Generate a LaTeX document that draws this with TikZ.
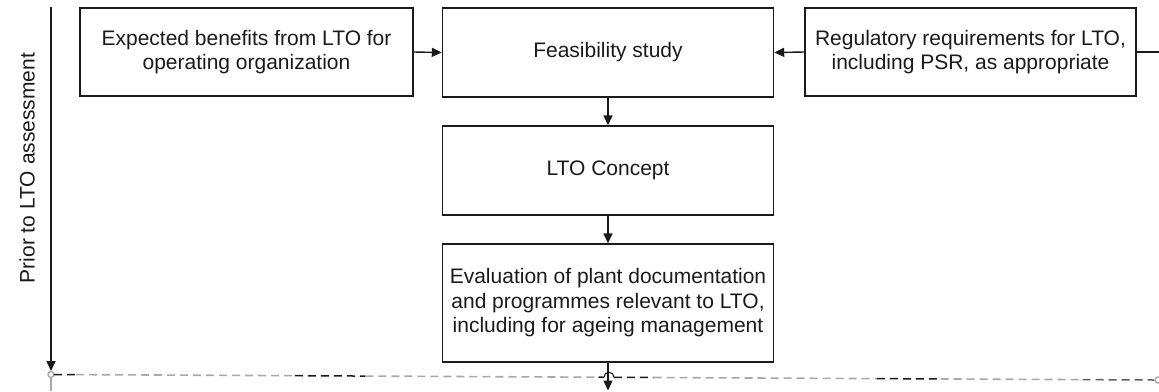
\documentclass[tikz,border=0pt]{standalone}
\usepackage{fontspec}
\setmainfont{Liberation Sans}
\usetikzlibrary{arrows.meta,calc}
\definecolor{ink}{HTML}{1A1A1A}
\definecolor{lightdash}{HTML}{A8A8A8}
\begin{document}
\begin{tikzpicture}[x=1bp,y=-1bp,
  stagebox/.style={draw=ink,line width=1.4bp,minimum width=331bp,align=center,
    font=\fontsize{21bp}{24.5bp}\selectfont,text=ink,inner sep=0pt},
  flow/.style={draw=ink,line width=1.4bp,-{Triangle[length=10bp,width=9bp]}},
  darkdash/.style={draw=ink,line width=1.5bp,dash pattern=on 8bp off 5bp},
  greydash/.style={draw=lightdash,line width=1.6bp,dash pattern=on 8bp off 5bp}]
\useasboundingbox (0,0) rectangle (1159,391);

% boxes
\node[stagebox,minimum width=333bp,minimum height=88bp] (benefits) at (246.5,52)
  {Expected benefits from LTO for\\operating organization};
\node[stagebox,minimum height=89bp] (feas) at (608,52.5) {Feasibility study};
\node[stagebox,minimum height=88bp] (reg) at (970.5,52)
  {Regulatory requirements for LTO,\\including PSR, as appropriate};
\node[stagebox,minimum height=89bp] (concept) at (608,170.5) {LTO Concept};
\node[stagebox,minimum height=118bp] (eval) at (608,303)
  {Evaluation of plant documentation\\and programmes relevant to LTO,\\including for ageing management};

% connectors
\draw[flow] (benefits.east) -- (feas.west);
\draw[flow] (reg.west) -- (feas.east);
\coordinate (regout) at (1159,52);
\draw[draw=ink,line width=1.4bp] (reg.east) -- (regout);
\draw[flow] (feas.south) -- (concept.north);
\draw[flow] (concept.south) -- (eval.north);
\coordinate (evalout) at (608,390.5);
\draw[flow] (eval.south) -- (evalout);

% timeline on the left
\coordinate (ttop) at (51,7);
\coordinate (tend) at (51,371);
\draw[flow] (ttop) -- (tend);
\node[circle,draw=lightdash,line width=1.4bp,minimum size=6bp,inner sep=0pt] (tdot) at (51,374.5) {};
\coordinate (tbot) at (51,391);
\draw[draw=lightdash,line width=1.8bp] (tdot.south) -- (tbot);
\node[rotate=90,font=\fontsize{21bp}{24bp}\selectfont,text=ink] (phase) at (27,168)
  {Prior to LTO assessment};

% stage boundary (dashed, partly dark, partly grey)
\coordinate (dl) at (54,374.5);
\coordinate (dr) at (1154,380);
\node[circle,draw=lightdash,line width=1.4bp,minimum size=6bp,inner sep=0pt] (rdot) at (1158,380) {};
\draw[darkdash] (dl) -- ($(dl)!0.02!(dr)$);
\draw[greydash] ($(dl)!0.02!(dr)$) -- ($(dl)!0.219!(dr)$);
\draw[darkdash] ($(dl)!0.219!(dr)$) -- ($(dl)!0.283!(dr)$);
\draw[greydash] ($(dl)!0.283!(dr)$) -- ($(dl)!0.495!(dr)$);
\draw[darkdash] ($(dl)!0.495!(dr)$) -- ($(dl)!0.5!(dr)$);
\draw[draw=ink,line width=1.1bp] ($(dl)!0.5!(dr)$) arc[start angle=180,end angle=0,radius=5bp];
\draw[darkdash] ($(dl)!0.509!(dr)$) -- ($(dl)!0.545!(dr)$);
\draw[greydash] ($(dl)!0.545!(dr)$) -- ($(dl)!0.748!(dr)$);
\draw[darkdash] ($(dl)!0.748!(dr)$) -- ($(dl)!0.806!(dr)$);
\draw[greydash] ($(dl)!0.806!(dr)$) -- ($(dl)!0.935!(dr)$);
\draw[darkdash,draw=ink!70] ($(dl)!0.935!(dr)$) -- (dr);
\end{tikzpicture}
\end{document}
